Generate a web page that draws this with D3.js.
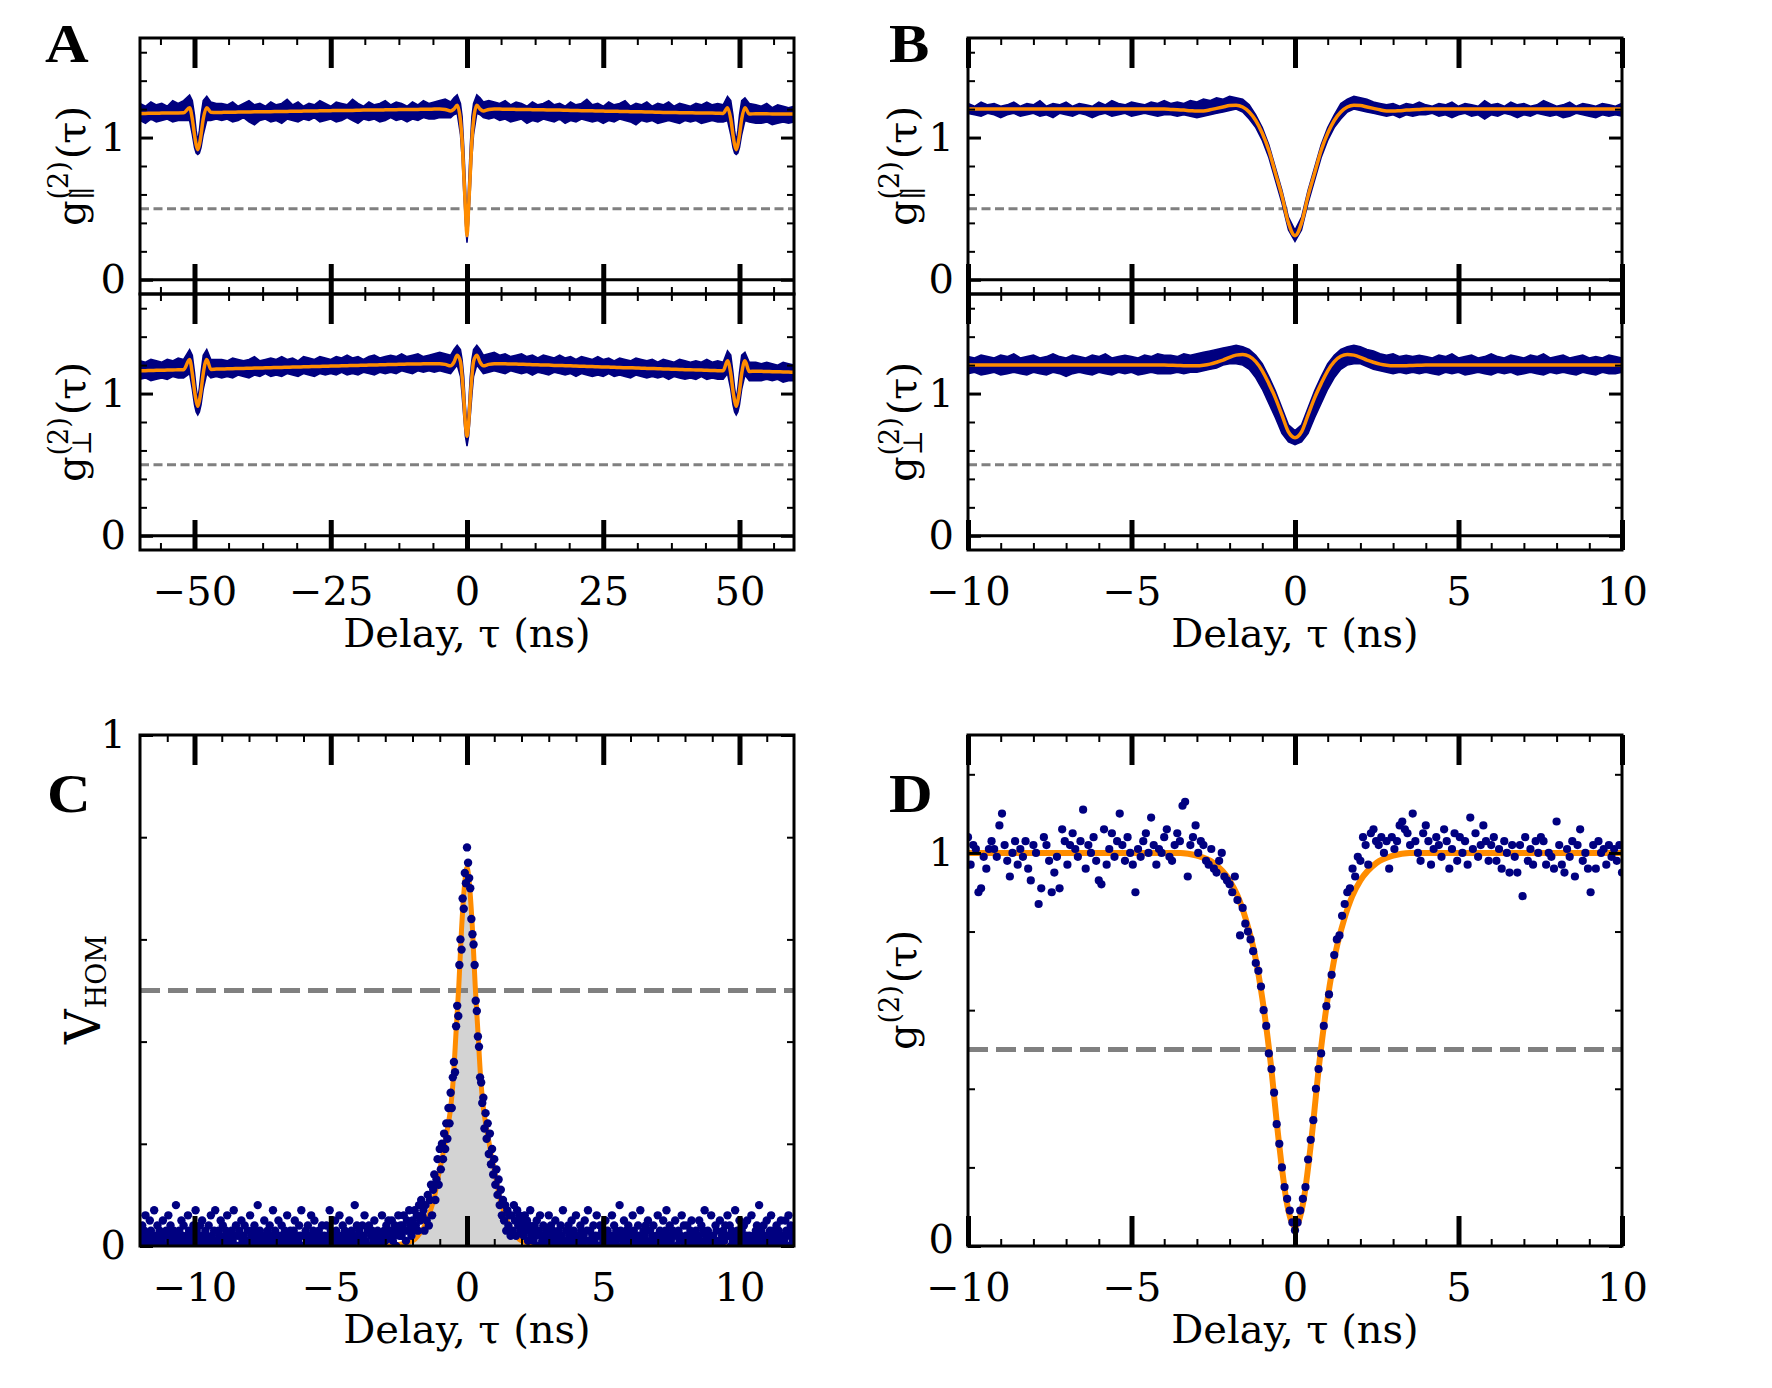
<!DOCTYPE html>
<html>
<head>
<meta charset="utf-8">
<script src="https://cdn.jsdelivr.net/npm/d3@7"></script>
<style>
  body { margin: 0; background: #fff; }
</style>
</head>
<body>
<svg id="fig" width="1772" height="1388"></svg>
<script>
// ---------- panel A : g2 over +-60 ns (parallel = upper, perpendicular = lower) ----------
const aTau = [-60,-59,-58,-57,-56,-55,-54,-53,
  -52,-50.9,-50.4,-50,-49.7,-49.4,-49.1,-48.8,-48.4,-47.75,-47,-46,
  -45,-44,-43,-42,-41,-40,-39,-38,-37,-36,-35,-34,-33,-32,-31,-30,-29,-28,-27,-26,-25,-24,-23,-22,-21,-20,-19,-18,-17,-16,-15,-14,-13,-12,-11,-10,-9,-8,-7,-6,-5,-4,
  -3,-2.4,-1.8,-1.2,-0.9,-0.6,-0.3,0,0.3,0.6,0.9,1.2,1.8,2.4,3,
  4,5,6,7,8,9,10,11,12,13,14,15,16,17,18,19,20,21,22,23,24,25,26,27,28,29,30,31,32,33,34,35,36,37,38,39,40,41,42,43,44,45,46,
  47,47.8,48.4,48.8,49.1,49.4,49.7,50,50.4,51,51.8,53,
  54,55,56,57,58,59,60];
const aParHi = [1.24,1.22,1.25,1.23,1.24,1.22,1.26,1.24,
  1.26,1.30,1.26,1.16,1.05,0.97,1.05,1.16,1.26,1.29,1.25,1.24,
  1.24,1.23,1.25,1.22,1.24,1.26,1.23,1.24,1.22,1.25,1.23,1.24,1.27,1.23,1.25,1.22,1.24,1.23,1.26,1.24,1.22,1.25,1.24,1.23,1.27,1.24,1.22,1.25,1.23,1.24,1.26,1.23,1.25,1.24,1.22,1.25,1.23,1.26,1.24,1.25,1.26,1.27,
  1.25,1.28,1.30,1.24,1.15,0.94,0.68,0.38,0.68,0.94,1.15,1.24,1.30,1.28,1.25,
  1.26,1.25,1.24,1.26,1.23,1.25,1.24,1.22,1.25,1.23,1.24,1.26,1.23,1.24,1.22,1.25,1.23,1.24,1.27,1.23,1.24,1.22,1.25,1.23,1.24,1.26,1.22,1.24,1.23,1.25,1.22,1.24,1.23,1.25,1.22,1.24,1.23,1.22,1.24,1.23,1.25,1.23,1.24,
  1.23,1.29,1.26,1.16,1.05,0.97,1.05,1.16,1.26,1.28,1.24,1.23,
  1.22,1.24,1.21,1.23,1.22,1.21,1.22];
const aParLo = [1.12,1.10,1.13,1.11,1.12,1.13,1.11,1.12,
  1.12,1.12,1.02,0.93,0.89,0.88,0.89,0.93,1.02,1.12,1.12,1.13,
  1.12,1.13,1.11,1.12,1.14,1.11,1.09,1.12,1.13,1.11,1.12,1.10,1.13,1.12,1.11,1.13,1.12,1.14,1.11,1.12,1.13,1.11,1.12,1.14,1.12,1.10,1.13,1.12,1.13,1.11,1.12,1.14,1.12,1.13,1.11,1.13,1.12,1.14,1.13,1.13,1.14,1.14,
  1.14,1.16,1.17,1.02,0.86,0.62,0.40,0.26,0.40,0.62,0.86,1.02,1.17,1.16,1.14,
  1.13,1.14,1.12,1.13,1.11,1.12,1.13,1.10,1.12,1.11,1.13,1.12,1.11,1.13,1.10,1.12,1.11,1.13,1.12,1.11,1.12,1.10,1.12,1.11,1.13,1.12,1.11,1.09,1.12,1.11,1.12,1.10,1.11,1.12,1.11,1.10,1.12,1.11,1.12,1.10,1.11,1.12,1.11,
  1.11,1.12,1.02,0.93,0.89,0.88,0.89,0.93,1.02,1.12,1.11,1.10,
  1.10,1.11,1.09,1.10,1.11,1.10,1.11];
const aParFit = [1.170,1.170,1.171,1.171,1.172,1.172,1.173,1.173,
  1.174,1.21,1.13,1.02,0.95,0.915,0.95,1.02,1.13,1.21,1.178,1.176,
  1.177,1.178,1.178,1.179,1.179,1.180,1.181,1.181,1.182,1.182,1.183,1.184,1.184,1.185,1.185,1.186,1.187,1.187,1.188,1.188,1.189,1.190,1.190,1.191,1.191,1.192,1.193,1.193,1.194,1.194,1.195,1.196,1.196,1.197,1.197,1.198,1.198,1.199,1.199,1.200,1.200,1.197,
  1.187,1.20,1.227,1.12,0.98,0.75,0.51,0.31,0.51,0.75,0.98,1.12,1.227,1.20,1.187,
  1.197,1.200,1.200,1.199,1.199,1.198,1.197,1.197,1.196,1.195,1.195,1.194,1.193,1.193,1.192,1.191,1.190,1.189,1.189,1.188,1.187,1.186,1.185,1.185,1.184,1.183,1.182,1.181,1.181,1.180,1.179,1.178,1.177,1.177,1.176,1.175,1.175,1.174,1.173,1.173,1.172,1.172,1.171,
  1.17,1.21,1.13,1.02,0.95,0.915,0.95,1.02,1.13,1.21,1.165,1.168,
  1.167,1.167,1.166,1.166,1.165,1.165,1.165];
const aPerpHi = [1.23,1.22,1.24,1.23,1.22,1.24,1.23,1.25,
  1.24,1.31,1.27,1.15,1.04,0.96,1.04,1.15,1.27,1.31,1.24,1.24,
  1.24,1.23,1.25,1.24,1.23,1.24,1.26,1.23,1.24,1.25,1.24,1.26,1.24,1.25,1.23,1.26,1.25,1.24,1.26,1.25,1.24,1.26,1.25,1.27,1.25,1.26,1.24,1.26,1.27,1.25,1.26,1.27,1.26,1.28,1.26,1.27,1.28,1.26,1.27,1.28,1.29,1.28,
  1.27,1.31,1.34,1.31,1.24,1.12,0.92,0.76,0.92,1.12,1.24,1.31,1.34,1.31,1.27,
  1.28,1.29,1.27,1.28,1.26,1.27,1.28,1.26,1.27,1.25,1.27,1.26,1.25,1.27,1.25,1.26,1.24,1.26,1.25,1.24,1.26,1.24,1.25,1.23,1.25,1.24,1.23,1.25,1.24,1.23,1.24,1.22,1.24,1.23,1.22,1.24,1.23,1.22,1.23,1.22,1.24,1.22,1.23,
  1.22,1.30,1.27,1.15,1.04,0.96,1.04,1.15,1.27,1.29,1.22,1.22,
  1.21,1.22,1.21,1.20,1.22,1.21,1.20];
const aPerpLo = [1.10,1.11,1.09,1.10,1.11,1.10,1.12,1.11,
  1.11,1.14,1.03,0.92,0.87,0.85,0.87,0.92,1.03,1.14,1.11,1.12,
  1.11,1.12,1.11,1.13,1.12,1.11,1.13,1.12,1.14,1.12,1.13,1.12,1.14,1.13,1.12,1.14,1.13,1.12,1.14,1.13,1.14,1.13,1.15,1.13,1.14,1.13,1.15,1.14,1.13,1.15,1.14,1.15,1.14,1.16,1.15,1.14,1.16,1.15,1.16,1.15,1.16,1.15,
  1.14,1.17,1.20,1.12,0.99,0.84,0.70,0.63,0.70,0.84,0.99,1.12,1.20,1.17,1.14,
  1.15,1.16,1.15,1.14,1.16,1.15,1.14,1.15,1.13,1.15,1.14,1.13,1.15,1.14,1.13,1.14,1.12,1.14,1.13,1.12,1.13,1.12,1.14,1.12,1.13,1.12,1.11,1.13,1.12,1.11,1.12,1.11,1.12,1.10,1.12,1.11,1.10,1.11,1.10,1.12,1.10,1.11,1.10,
  1.10,1.14,1.03,0.92,0.87,0.85,0.87,0.92,1.03,1.13,1.09,1.09,
  1.09,1.10,1.09,1.10,1.08,1.09,1.09];
const aPerpFit = [1.160,1.161,1.162,1.163,1.164,1.165,1.166,1.167,
  1.168,1.24,1.14,1.02,0.95,0.91,0.95,1.02,1.14,1.24,1.17,1.172,
  1.173,1.174,1.175,1.176,1.177,1.178,1.179,1.180,1.181,1.182,1.183,1.184,1.185,1.186,1.187,1.188,1.189,1.190,1.191,1.192,1.193,1.194,1.195,1.196,1.197,1.198,1.199,1.200,1.201,1.202,1.203,1.204,1.205,1.206,1.207,1.208,1.208,1.209,1.209,1.210,1.210,1.205,
  1.195,1.22,1.27,1.225,1.12,0.97,0.79,0.70,0.79,0.97,1.12,1.225,1.27,1.22,1.195,
  1.205,1.210,1.210,1.209,1.208,1.207,1.206,1.205,1.203,1.202,1.201,1.200,1.198,1.197,1.196,1.195,1.193,1.192,1.191,1.190,1.188,1.187,1.186,1.185,1.183,1.182,1.181,1.180,1.178,1.177,1.176,1.175,1.173,1.172,1.171,1.170,1.168,1.167,1.166,1.165,1.163,1.162,1.161,
  1.16,1.23,1.14,1.02,0.95,0.91,0.95,1.02,1.14,1.23,1.155,1.157,
  1.156,1.155,1.154,1.153,1.152,1.151,1.150];

// ---------- panel B : same data, +-10 ns, 0.2 ns bins ----------
const bStart = -10, bBin = 0.2;
const bParHi = [1.24,1.22,1.25,1.23,1.24,1.22,1.23,1.25,1.22,1.24,1.23,1.26,1.22,1.24,1.23,1.25,1.22,1.24,1.23,1.22,1.25,1.23,1.26,1.24,1.23,1.25,1.24,1.23,1.25,1.24,1.26,
  1.24,1.25,1.24,1.26,1.25,1.27,1.26,1.28,1.27,1.29,1.28,1.27,1.23,1.16,1.07,0.95,0.79,0.63,0.44,
  0.35,
  0.44,0.63,0.79,0.95,1.07,1.16,1.24,1.27,1.29,1.28,1.27,1.25,1.24,1.23,1.24,1.22,1.24,1.23,1.25,
  1.23,1.22,1.24,1.23,1.25,1.22,1.24,1.23,1.22,1.26,1.23,1.24,1.22,1.25,1.23,1.24,1.22,1.23,1.26,1.24,1.22,1.23,1.25,1.22,1.24,1.23,1.22,1.24,1.23,1.22,1.24];
const bParLo = [1.17,1.16,1.15,1.17,1.16,1.14,1.16,1.17,1.15,1.16,1.17,1.15,1.16,1.14,1.17,1.16,1.15,1.17,1.16,1.14,1.16,1.17,1.15,1.16,1.17,1.15,1.16,1.17,1.16,1.15,1.16,
  1.16,1.15,1.16,1.15,1.14,1.15,1.16,1.17,1.18,1.19,1.20,1.18,1.13,1.07,0.98,0.86,0.70,0.54,0.35,
  0.27,
  0.35,0.54,0.70,0.86,0.98,1.07,1.13,1.18,1.20,1.19,1.18,1.17,1.16,1.15,1.16,1.14,1.16,1.15,1.16,
  1.16,1.17,1.15,1.16,1.14,1.16,1.17,1.15,1.16,1.13,1.16,1.15,1.17,1.16,1.14,1.16,1.15,1.17,1.16,1.15,1.16,1.14,1.15,1.17,1.16,1.15,1.14,1.16,1.15,1.16,1.15];
const bParFit = [1.20,1.20,1.20,1.20,1.20,1.20,1.20,1.20,1.20,1.20,1.20,1.20,1.20,1.20,1.20,1.20,1.20,1.20,1.20,1.20,1.20,1.20,1.20,1.20,1.20,1.20,1.20,1.20,1.20,1.20,1.20,
  1.198,1.196,1.193,1.189,1.186,1.187,1.195,1.205,1.215,1.225,1.227,1.215,1.18,1.12,1.03,0.91,0.75,0.59,0.40,
  0.31,
  0.40,0.59,0.75,0.91,1.03,1.12,1.18,1.215,1.227,1.225,1.215,1.205,1.195,1.187,1.186,1.189,1.193,1.196,1.198,
  1.20,1.20,1.20,1.20,1.20,1.20,1.20,1.20,1.20,1.20,1.20,1.20,1.20,1.20,1.20,1.20,1.20,1.20,1.20,1.20,1.20,1.20,1.20,1.20,1.20,1.20,1.20,1.20,1.20,1.20,1.20];
const bPerpHi = [1.26,1.25,1.27,1.26,1.25,1.27,1.26,1.28,1.25,1.26,1.27,1.25,1.26,1.28,1.26,1.25,1.27,1.26,1.25,1.27,1.26,1.28,1.25,1.26,1.27,1.26,1.25,1.27,1.26,1.28,1.27,
  1.27,1.26,1.28,1.27,1.28,1.29,1.30,1.31,1.32,1.33,1.34,1.33,1.31,1.27,1.21,1.12,1.02,0.90,0.78,
  0.74,
  0.78,0.90,1.02,1.12,1.21,1.27,1.31,1.33,1.34,1.33,1.31,1.30,1.28,1.27,1.28,1.26,1.27,1.26,1.27,
  1.26,1.25,1.27,1.26,1.28,1.25,1.26,1.27,1.25,1.26,1.28,1.26,1.25,1.27,1.26,1.25,1.27,1.26,1.28,1.25,1.26,1.27,1.25,1.26,1.27,1.25,1.26,1.25,1.27,1.26,1.25];
const bPerpLo = [1.14,1.15,1.13,1.14,1.15,1.13,1.14,1.15,1.14,1.13,1.15,1.14,1.13,1.15,1.14,1.12,1.14,1.15,1.14,1.13,1.15,1.14,1.13,1.15,1.14,1.15,1.13,1.14,1.15,1.14,1.14,
  1.14,1.15,1.14,1.15,1.15,1.16,1.17,1.18,1.20,1.21,1.21,1.20,1.17,1.11,1.03,0.93,0.83,0.72,0.66,
  0.64,
  0.66,0.72,0.83,0.93,1.03,1.11,1.17,1.20,1.21,1.21,1.19,1.17,1.16,1.15,1.14,1.15,1.14,1.15,1.14,
  1.15,1.14,1.13,1.15,1.14,1.15,1.13,1.14,1.15,1.14,1.13,1.15,1.14,1.15,1.13,1.14,1.15,1.14,1.13,1.15,1.14,1.15,1.14,1.13,1.15,1.14,1.13,1.15,1.14,1.14,1.15];
const bPerpFit = [1.20,1.20,1.20,1.20,1.20,1.20,1.20,1.20,1.20,1.20,1.20,1.20,1.20,1.20,1.20,1.20,1.20,1.20,1.20,1.20,1.20,1.20,1.20,1.20,1.20,1.20,1.20,1.20,1.20,1.20,1.20,
  1.199,1.198,1.196,1.195,1.195,1.199,1.207,1.22,1.235,1.255,1.27,1.275,1.262,1.225,1.16,1.07,0.97,0.85,0.73,
  0.69,
  0.73,0.85,0.97,1.07,1.16,1.225,1.262,1.275,1.27,1.255,1.235,1.22,1.207,1.199,1.195,1.195,1.196,1.198,1.199,
  1.20,1.20,1.20,1.20,1.20,1.20,1.20,1.20,1.20,1.20,1.20,1.20,1.20,1.20,1.20,1.20,1.20,1.20,1.20,1.20,1.20,1.20,1.20,1.20,1.20,1.20,1.20,1.20,1.20,1.20,1.20];

// ---------- panel C : HOM visibility, 0.04 ns bins from -12 ns ----------
const cStart = -12, cBin = 0.04;
const cVis = [
  // -12 .. -1.64
  .02,0,.04,.01,.03,.06,.01,.02,0,.05, .03,.01,.02,.07,0,.02,.04,.01,.03,0,
  .01,.05,.02,0,.03,.02,.06,.01,.04,.02, 0,.03,.01,.08,.02,.01,.03,0,.05,.02,
  .04,.01,0,.02,.06,.03,.01,.02,0,.04, .02,.07,.03,0,.01,.04,.02,.05,.01,0,
  .03,.02,.01,.04,0,.06,.02,.01,.03,.07, .01,0,.03,.02,.05,.01,.04,0,.02,.03,
  .06,.01,.02,0,.03,.01,.07,.02,.04,0, .02,.03,0,.05,.01,.02,.04,.01,0,.03,
  .01,.06,.02,.03,0,.04,.01,.02,.08,.01, .03,0,.02,.01,.05,.02,0,.03,.01,.04,
  0,.02,.07,.01,.03,0,.02,.05,.01,.02, .04,.01,0,.03,.02,.06,.01,0,.03,.02,
  .01,.03,.05,0,.02,.01,.04,.02,.07,0, .02,0,.03,.01,.04,.02,0,.06,.01,.03,
  .05,.02,.01,0,.03,.01,.02,.04,0,.02, .01,.04,0,.02,.07,.03,.01,0,.02,.05,
  .03,.01,.02,.06,0,.02,.04,.01,.03,0, 0,.02,.05,.01,.03,0,.02,.08,.01,.04,
  .02,.03,.01,0,.04,.02,.06,.01,0,.03, .04,0,.02,.03,.01,.05,.02,0,.03,.01,
  .01,.02,.06,0,.03,.01,.04,.02,.05,.02, .03,.05,.01,.02,.04,0,.03,.06,.02,.04,
  .02,.04,.06,.03,.01,.05,.03,.07,.04,.02, .05,.03,.07,.04,.06,.03,.08,.05,.09,.06,
  // -1.6 .. 1.6
  .07,.03,.08,.05,.10,.04,.09,.12,.06,.11, .14,.09,.13,.17,.12,.19,.15,.20,.17,.22,
  .19,.24,.21,.27,.24,.30,.27,.33,.36,.34, .43,.47,.45,.55,.60,.58,.68,.66,.73,.71,
  .78,
  .75,.72,.70,.64,.61,.59,.55,.48,.46,.41, .39,.33,.32,.28,.29,.23,.26,.21,.24,.18,
  .22,.16,.19,.14,.17,.12,.15,.10,.13,.08, .11,.06,.09,.05,.08,.03,.07,.04,.06,.02,
  // 1.64 .. 12
  .06,.03,.08,.05,.02,.07,.04,.06,.03,.05, .04,.02,.06,.03,.05,.01,.04,.07,.02,.03,
  .01,.04,.02,.05,0,.03,.06,.02,.01,.04, .02,0,.03,.01,.06,.02,.04,0,.03,.01,
  .05,.02,0,.03,.01,.04,.02,.07,.01,0, .03,.01,.04,.02,0,.05,.01,.03,.02,.06,
  0,.02,.01,.04,.03,0,.02,.05,.01,.03, .07,.01,.03,0,.02,.04,.01,.02,.06,0,
  .02,.04,0,.03,.01,.02,.05,.01,.03,.02, .01,0,.06,.02,.04,.01,.03,0,.02,.08,
  .03,.02,.01,.05,0,.03,.02,.04,.01,0, .02,.06,.03,.01,.02,0,.04,.02,.07,.01,
  0,.03,.02,.04,.01,.05,0,.03,.01,.02, .04,.01,0,.02,.06,.01,.03,.02,0,.05,
  .01,.03,.07,0,.02,.04,.01,0,.03,.02, .05,0,.02,.03,.01,.02,.06,.01,.04,0,
  .02,.04,.01,0,.03,.05,.02,.01,0,.03, 0,.02,.05,.01,.04,0,.03,.07,.02,.01,
  .03,.01,.02,.06,0,.02,.01,.04,.03,0, .01,.05,0,.02,.03,.01,.04,.02,.06,.02,
  .04,0,.03,.01,.02,.07,0,.03,.01,.05, .02,.03,.01,.04,0,.02,.05,.01,.02,0,
  .06,.01,.02,0,.03,.04,.01,.08,.02,.03, 0,.04,.02,.01,.05,.02,0,.03,.06,.01,
  .03,.02,0,.04,.01,.03,.02,.05,0,.02, .01,.05,.03,.02,.06,0,.04,.02,.01,.03];
const cFitTau = [-12,-8,-5,-3,-2.5,-2,-1.8,-1.6,-1.4,-1.2,-1,-0.9,-0.8,-0.7,-0.6,-0.5,-0.4,-0.3,-0.2,-0.1,0,
  0.1,0.2,0.3,0.4,0.5,0.6,0.7,0.8,0.9,1,1.2,1.4,1.6,1.8,2,2.5,3,5,8,12];
const cFit = [0,0,0,0,0.003,0.01,0.02,0.035,0.06,0.095,0.15,0.175,0.205,0.235,0.27,0.33,0.42,0.51,0.62,0.70,0.74,
  0.70,0.62,0.51,0.42,0.33,0.27,0.235,0.205,0.175,0.15,0.095,0.06,0.035,0.02,0.01,0.003,0,0,0,0];

// ---------- panel D : g2 of single source, 0.08 ns bins from -10 ns ----------
const dStart = -10, dBin = 0.08;
const dG2 = [
  1.04,0.97,1.02,1.01,0.90,0.91,0.99,0.96,1.01,1.03, 1.01,0.99,1.07,1.10,1.02,0.98,0.94,1.00,1.03,0.97,
  1.01,0.99,1.03,0.96,0.93,1.02,1.00,0.87,0.91,1.04, 1.02,0.98,0.90,0.95,0.99,0.91,1.06,1.03,0.97,1.02,
  1.05,1.01,0.99,1.03,1.11,0.96,1.02,1.00,1.04,0.98, 0.93,0.92,1.06,0.97,1.01,1.05,0.99,1.03,1.10,1.02,
  0.98,1.04,1.00,0.97,0.90,1.01,0.99,1.03,1.05,1.00, 1.09,1.02,0.97,1.01,1.00,1.04,1.06,0.99,0.98,1.02,
  1.05,1.03,1.12,1.13,0.94,1.02,1.04,1.07,1.00,1.03, 1.02,0.98,0.97,1.01,0.96,0.95,0.98,1.00,0.94,0.93,
  0.92,0.90,0.94,0.88,0.79,0.86,0.82,0.80,0.78,0.75, 0.72,0.70,0.66,0.60,0.56,0.49,0.45,0.39,0.31,0.26,
  0.20,0.15,0.12,0.09,0.06,0.04,0.06,0.09,0.12,0.15, 0.22,0.27,0.32,0.40,0.45,0.49,0.56,0.61,0.64,0.69,
  0.74,0.78,0.79,0.84,0.87,0.90,0.91,0.96,0.94,0.99, 0.98,1.04,1.02,0.97,1.05,1.06,1.03,1.02,1.04,1.00,
  1.03,0.96,1.04,1.01,1.03,1.07,1.08,1.06,1.05,1.02, 1.10,1.03,1.00,0.98,1.05,1.07,1.03,0.97,1.01,1.04,
  1.02,0.99,1.06,1.03,0.96,1.01,1.05,0.98,1.04,1.00, 1.03,0.97,1.09,1.01,1.05,0.99,1.02,1.07,1.03,0.98,
  1.02,1.04,0.98,1.01,0.96,1.03,1.00,0.95,1.02,0.99, 0.95,1.02,0.89,1.04,0.98,1.01,0.97,1.03,1.00,1.04,
  1.03,0.97,1.00,0.99,0.96,1.08,1.02,0.97,0.95,1.01, 0.99,1.03,0.94,1.02,1.06,0.98,1.00,0.96,0.90,1.02,
  0.96,1.03,1.00,1.01,0.97,1.02,0.99,1.01,0.98,1.02,0.95];
const dFitTau = [-10,-5,-4,-3.5,-3,-2.5,-2,-1.75,-1.5,-1.25,-1,-0.75,-0.5,-0.25,0,0.25,0.5,0.75,1,1.25,1.5,1.75,2,2.5,3,3.5,4,5,10];
const dFit = [1,1,1,1,0.993,0.975,0.93,0.89,0.83,0.75,0.63,0.47,0.27,0.11,0.05,0.11,0.27,0.47,0.63,0.75,0.83,0.89,0.93,0.975,0.993,1,1,1,1];

// ---------- ticks ----------
const aMajor = [-50,-25,0,25,50];
const bMajor = [-10,-5,0,5,10];
const cMajor = [-10,-5,0,5,10];
const g2Minor = [0.2,0.4,0.6,0.8,1.2,1.4,1.6];

const FONT = "DejaVu Serif";
const FS = 40;
const NAVY = "#000080", ORANGE = "#ff8c00", GREY = "#808080";
const svg = d3.select("#fig");
svg.append("rect").attr("width", 1772).attr("height", 1388).attr("fill", "#fff");

let clipN = 0;
function makeAxes(box, xd, yd) {
  const x = d3.scaleLinear().domain(xd).range([box.x0, box.x1]);
  const y = d3.scaleLinear().domain(yd).range([box.y1, box.y0]);
  const id = "clip" + (clipN++);
  svg.append("clipPath").attr("id", id).append("rect")
    .attr("x", box.x0).attr("y", box.y0)
    .attr("width", box.x1 - box.x0).attr("height", box.y1 - box.y0);
  const plot = svg.append("g").attr("clip-path", `url(#${id})`);
  return {x, y, box, plot};
}

function tickSet(axisFn, scale, vals, size, width, tx, ty) {
  const g = svg.append("g").attr("transform", `translate(${tx},${ty})`)
    .call(axisFn(scale).tickValues(vals).tickSize(size).tickFormat(""));
  g.select(".domain").remove();
  g.selectAll("line").attr("stroke", "#000").attr("stroke-width", width);
}

function frame(ax, s) {
  const {x, y, box} = ax;
  tickSet(d3.axisBottom, x, s.xMinor, 7, 2, 0, box.y0);
  tickSet(d3.axisTop, x, s.xMinor, 7, 2, 0, box.y1);
  tickSet(d3.axisBottom, x, s.xMajor, 30, 5, 0, box.y0);
  tickSet(d3.axisTop, x, s.xMajor, 30, 5, 0, box.y1);
  tickSet(d3.axisRight, y, s.yMinor, 7, 2, box.x0, 0);
  tickSet(d3.axisLeft, y, s.yMinor, 7, 2, box.x1, 0);
  tickSet(d3.axisRight, y, s.yMajor, 13, 3, box.x0, 0);
  tickSet(d3.axisLeft, y, s.yMajor, 13, 3, box.x1, 0);
  svg.append("rect").attr("x", box.x0).attr("y", box.y0)
    .attr("width", box.x1 - box.x0).attr("height", box.y1 - box.y0)
    .attr("fill", "none").attr("stroke", "#000").attr("stroke-width", 3);
}

// zeroLift nudges a "0" that sits in the lower corner clear of the x labels
function yTickLabels(ax, vals, zeroLift) {
  const g = svg.append("g").attr("transform", `translate(${ax.box.x0},0)`)
    .call(d3.axisLeft(ax.y).tickValues(vals).tickSize(0).tickPadding(14).tickFormat(d3.format("d")));
  g.select(".domain").remove();
  g.selectAll("text").attr("font-family", FONT).attr("font-size", FS).attr("fill", "#000");
  if (zeroLift) g.selectAll(".tick").filter(d => d === 0).select("text").attr("y", -zeroLift);
}

function xTickLabels(ax, vals, title) {
  const g = svg.append("g").attr("transform", `translate(0,${ax.box.y1})`)
    .call(d3.axisBottom(ax.x).tickValues(vals).tickSize(0).tickPadding(27).tickFormat(d3.format("d")));
  g.select(".domain").remove();
  g.selectAll("text").attr("font-family", FONT).attr("font-size", FS).attr("fill", "#000");
  svg.append("text").attr("x", (ax.box.x0 + ax.box.x1) / 2).attr("y", ax.box.y1 + 97)
    .attr("text-anchor", "middle").attr("font-family", FONT).attr("font-size", FS).text(title);
}

function hline(ax, v, color, width, dash) {
  ax.plot.append("line").attr("x1", ax.box.x0).attr("x2", ax.box.x1)
    .attr("y1", ax.y(v)).attr("y2", ax.y(v))
    .attr("stroke", color).attr("stroke-width", width).attr("stroke-dasharray", dash || null);
}

function bandPanel(ax, tau, hi, lo, fit) {
  const rows = tau.map((t, i) => ({t, hi: hi[i], lo: lo[i], fit: fit[i]}));
  hline(ax, 0.5, GREY, 3, "9,4.5");
  ax.plot.append("path").datum(rows)
    .attr("d", d3.area().x(d => ax.x(d.t)).y0(d => ax.y(d.lo)).y1(d => ax.y(d.hi)))
    .attr("fill", NAVY).attr("stroke", NAVY).attr("stroke-width", 1.5);
  ax.plot.append("path").datum(rows)
    .attr("d", d3.line().curve(d3.curveMonotoneX).x(d => ax.x(d.t)).y(d => ax.y(d.fit)))
    .attr("fill", "none").attr("stroke", ORANGE).attr("stroke-width", 3.5);
}

// rotated title with stacked super/subscript
function yTitle(cx, cy, main, sup, sub, tail, big, small) {
  const g = svg.append("g").attr("transform", `translate(${cx},${cy}) rotate(-90)`);
  const inner = g.append("g").attr("font-family", FONT).attr("fill", "#000");
  const t1 = inner.append("text").attr("font-size", big).text(main);
  let xpos = t1.node().getComputedTextLength() + 1;
  let w = 0;
  if (sup) {
    const ts = inner.append("text").attr("x", xpos).attr("y", -FS * 0.42).attr("font-size", small).text(sup);
    w = Math.max(w, ts.node().getComputedTextLength());
  }
  if (sub) {
    const tb = inner.append("text").attr("x", xpos).attr("y", FS * 0.14).attr("font-size", small).text(sub);
    w = Math.max(w, tb.node().getComputedTextLength());
  }
  xpos += w + 2;
  if (tail) inner.append("text").attr("x", xpos).attr("font-size", big).text(tail);
  const bb = inner.node().getBBox();
  inner.attr("transform", `translate(${-(bb.x + bb.width / 2)},0)`);
}

function panelLetter(x, y, s) {
  svg.append("text").attr("transform", `translate(${x},${y}) scale(1.12,1)`)
    .attr("font-family", "Liberation Serif").attr("font-weight", "bold").attr("font-size", 54).text(s);
}

const minorX = (lo, hi, step, majors) =>
  d3.range(lo, hi + 1e-9, step).filter(v => !majors.some(m => Math.abs(m - v) < 1e-6));

// ---------- A ----------
const boxL = {x0: 140, x1: 794}, boxR = {x0: 968, x1: 1622};
const yA = [-0.1, 1.7];
const aUp = makeAxes({...boxL, y0: 38, y1: 294}, [-60, 60], yA);
const aDn = makeAxes({...boxL, y0: 294, y1: 550}, [-60, 60], yA);
bandPanel(aUp, aTau, aParHi, aParLo, aParFit);
bandPanel(aDn, aTau, aPerpHi, aPerpLo, aPerpFit);
const aSpec = {xMajor: aMajor, xMinor: minorX(-56.25, 56.25, 6.25, aMajor), yMajor: [0, 1], yMinor: g2Minor};
[aUp, aDn].forEach(ax => { hline(ax, 0, "#000", 3); frame(ax, aSpec); yTickLabels(ax, [0, 1]); });
xTickLabels(aDn, aMajor, "Delay, \u03c4 (ns)");

// ---------- B ----------
const bTau = bParHi.map((_, i) => bStart + i * bBin);
const bUp = makeAxes({...boxR, y0: 38, y1: 294}, [-10, 10], yA);
const bDn = makeAxes({...boxR, y0: 294, y1: 550}, [-10, 10], yA);
bandPanel(bUp, bTau, bParHi, bParLo, bParFit);
bandPanel(bDn, bTau, bPerpHi, bPerpLo, bPerpFit);
const bSpec = {xMajor: bMajor, xMinor: minorX(-9, 9, 1, bMajor), yMajor: [0, 1], yMinor: g2Minor};
[bUp, bDn].forEach(ax => { hline(ax, 0, "#000", 3); frame(ax, bSpec); yTickLabels(ax, [0, 1]); });
xTickLabels(bDn, bMajor, "Delay, \u03c4 (ns)");

// ---------- C ----------
const cAx = makeAxes({...boxL, y0: 735, y1: 1246}, [-12, 12], [0, 1]);
const cFitRows = cFitTau.map((t, i) => ({t, v: cFit[i]}));
cAx.plot.append("path").datum(cFitRows)
  .attr("d", d3.area().curve(d3.curveMonotoneX).x(d => cAx.x(d.t)).y0(cAx.y(0)).y1(d => cAx.y(d.v)))
  .attr("fill", "#d3d3d3");
hline(cAx, 0.5, GREY, 5, "20,8");
cAx.plot.append("path").datum(cFitRows)
  .attr("d", d3.line().curve(d3.curveMonotoneX).x(d => cAx.x(d.t)).y(d => cAx.y(d.v)))
  .attr("fill", "none").attr("stroke", ORANGE).attr("stroke-width", 5);
cAx.plot.selectAll("circle").data(cVis.map((v, i) => ({t: cStart + i * cBin, v})))
  .join("circle").attr("cx", d => cAx.x(d.t)).attr("cy", d => cAx.y(d.v))
  .attr("r", 4.2).attr("fill", NAVY);
frame(cAx, {xMajor: cMajor, xMinor: minorX(-11, 11, 1, cMajor), yMajor: [0, 1], yMinor: [0.2, 0.4, 0.6, 0.8]});
yTickLabels(cAx, [0, 1]);
xTickLabels(cAx, cMajor, "Delay, \u03c4 (ns)");

// ---------- D ----------
const dAx = makeAxes({...boxR, y0: 735, y1: 1246}, [-10, 10], [0, 1.3]);
hline(dAx, 0.5, GREY, 5, "20,8");
dAx.plot.append("path").datum(dFitTau.map((t, i) => ({t, v: dFit[i]})))
  .attr("d", d3.line().curve(d3.curveMonotoneX).x(d => dAx.x(d.t)).y(d => dAx.y(d.v)))
  .attr("fill", "none").attr("stroke", ORANGE).attr("stroke-width", 6);
dAx.plot.selectAll("circle").data(dG2.map((v, i) => ({t: dStart + i * dBin, v})))
  .join("circle").attr("cx", d => dAx.x(d.t)).attr("cy", d => dAx.y(d.v))
  .attr("r", 4.1).attr("fill", NAVY);
frame(dAx, {xMajor: bMajor, xMinor: minorX(-9, 9, 1, bMajor), yMajor: [0, 1], yMinor: [0.2, 0.4, 0.6, 0.8, 1.2]});
yTickLabels(dAx, [0, 1], 6);
xTickLabels(dAx, bMajor, "Delay, \u03c4 (ns)");

// ---------- titles ----------
yTitle(85, 166, "g", "(2)", "\u2225", "(\u03c4)", FS, 27);
yTitle(85, 422, "g", "(2)", "\u22a5", "(\u03c4)", FS, 27);
yTitle(916, 166, "g", "(2)", "\u2225", "(\u03c4)", FS, 27);
yTitle(916, 422, "g", "(2)", "\u22a5", "(\u03c4)", FS, 27);
yTitle(100, 990, "V", null, "HOM", null, 48, 27);
yTitle(916, 990, "g", "(2)", null, "(\u03c4)", FS, 27);

panelLetter(45, 62, "A");
panelLetter(889, 62, "B");
panelLetter(47, 812, "C");
panelLetter(889, 812, "D");
</script>
</body>
</html>
